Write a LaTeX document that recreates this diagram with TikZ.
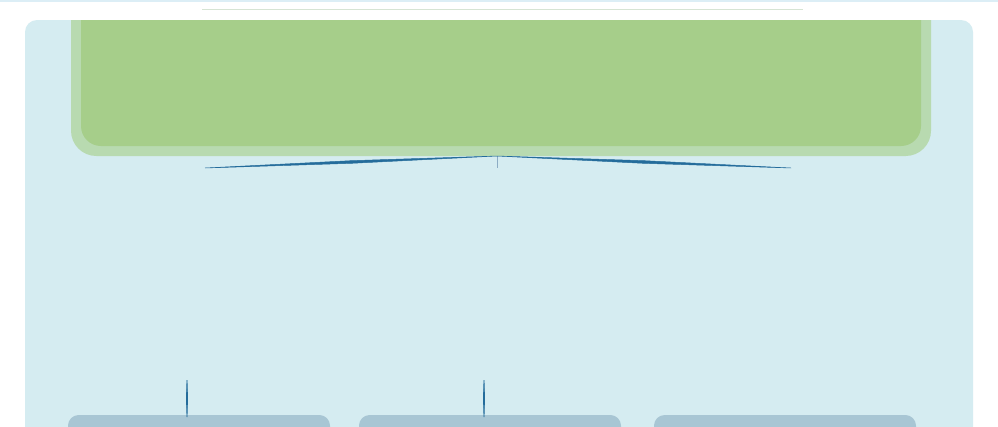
\documentclass[tikz,border=0pt]{standalone}
\usetikzlibrary{calc}
\definecolor{panel}{RGB}{213,236,241}
\definecolor{outergreen}{RGB}{184,218,176}
\definecolor{innergreen}{RGB}{166,206,138}
\definecolor{boxblue}{RGB}{168,198,212}
\definecolor{linkblue}{RGB}{36,108,155}
\definecolor{topline}{RGB}{220,238,246}
\definecolor{ruleline}{RGB}{214,228,212}
\definecolor{stemgray}{RGB}{140,172,196}
\tikzset{
  taperlink/.style={fill=linkblue, draw=linkblue, line width=0.35pt},
  stemlink/.style={fill=linkblue, draw=linkblue, line width=0.6pt},
  stemline/.style={draw=stemgray, line width=0.6pt},
  bottombox/.style={fill=boxblue},
}
\newcommand\taperfrom[4]{%
  \path[#4] (#1) -- ($(#1)!0.5!(#2)!#3!90:(#2)$) -- (#2) -- ($(#1)!0.5!(#2)!#3!-90:(#2)$) -- cycle;}
\begin{document}
\begin{tikzpicture}[x=0.75pt,y=-0.75pt]
\useasboundingbox (0,0) rectangle (998,426);
\fill[white] (0,0) rectangle (998,426);
\begin{scope}
\clip (0,0) rectangle (998,426);
\fill[topline] (0,0) rectangle (998,2);
\draw[ruleline, line width=0.8pt] (202,9.5) -- (803,9.5);
% panel
\fill[panel, rounded corners=9pt] (25,20) rectangle (973,460);
% green header
\fill[outergreen] (71,20) {[rounded corners=19pt] -- (71,156) -- (931,156)} -- (931,20) -- cycle;
\fill[innergreen] (81,20) {[rounded corners=15pt] -- (81,146) -- (921,146)} -- (921,20) -- cycle;
% bottom boxes
\fill[bottombox] (68,440) {[rounded corners=8pt] -- (68,415) -- (330,415)} -- (330,440) -- cycle;
\fill[bottombox] (359,440) {[rounded corners=8pt] -- (359,415) -- (621,415)} -- (621,440) -- cycle;
\fill[bottombox] (654,440) {[rounded corners=8pt] -- (654,415) -- (916,415)} -- (916,440) -- cycle;
% connector points
\coordinate (apex) at (497,156);
\coordinate (apexfoot) at (497,168);
\coordinate (leftend) at (205,168);
\coordinate (rightend) at (791,168);
\coordinate (stemAtop) at (187,380);
\coordinate (stemAbot) at (187,417);
\coordinate (stemBtop) at (484,380);
\coordinate (stemBbot) at (484,417);
\draw[stemline] (apex) -- (apexfoot);
\taperfrom{apex}{leftend}{1pt}{taperlink}
\taperfrom{apex}{rightend}{1pt}{taperlink}
\taperfrom{stemAtop}{stemAbot}{0.4pt}{stemlink}
\taperfrom{stemBtop}{stemBbot}{0.4pt}{stemlink}
\end{scope}
\end{tikzpicture}
\end{document}
